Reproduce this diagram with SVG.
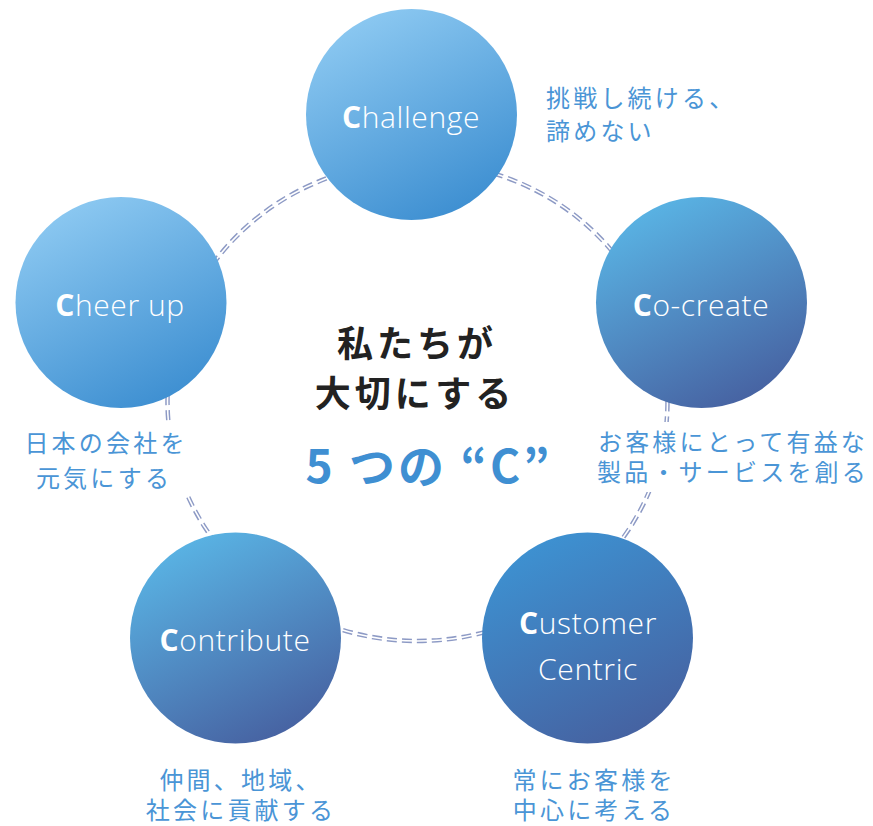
<svg xmlns="http://www.w3.org/2000/svg" width="873" height="826" viewBox="0 0 873 826">
<defs>
<linearGradient id="gA" x1="0.25" y1="0" x2="0.75" y2="1">
<stop offset="0" stop-color="#8ecaf2"/>
<stop offset="1" stop-color="#3b8dd0"/>
</linearGradient>
<linearGradient id="gB" x1="0.25" y1="0" x2="0.75" y2="1">
<stop offset="0" stop-color="#5ab6e6"/>
<stop offset="1" stop-color="#465f9f"/>
</linearGradient>
<linearGradient id="gC" x1="0.25" y1="0" x2="0.75" y2="1">
<stop offset="0" stop-color="#3d93d3"/>
<stop offset="1" stop-color="#46609f"/>
</linearGradient>
<style>
.lbl{font-family:"Open Sans","Noto Sans","Liberation Sans",sans-serif;font-size:30px;fill:#fff;text-anchor:middle;font-weight:300;letter-spacing:0.6px}
.lbl tspan.c{font-weight:700}
.desc{font-family:"Noto Sans CJK JP",sans-serif;font-size:24px;fill:#4a95d6;letter-spacing:3.2px}
.mid{text-anchor:middle}
.bg{fill:#fff}
.title{font-family:"Noto Sans CJK JP",sans-serif;font-size:36px;font-weight:700;fill:#222;text-anchor:middle;letter-spacing:4px}
.big{font-family:"Noto Sans CJK JP",sans-serif;font-size:46px;font-weight:700;fill:#3f8fd2;text-anchor:middle;letter-spacing:3px}
</style>
</defs>
<rect width="873" height="826" fill="#fff"/>
<g id="connectors">
<ellipse cx="417.5" cy="401.5" rx="250" ry="239.5" fill="none" stroke="#8d9ac5" stroke-width="4.5" stroke-dasharray="10 5"/>
<ellipse cx="417.5" cy="401.5" rx="250" ry="239.5" fill="none" stroke="#fff" stroke-width="1.6"/>
</g>
<g id="challenge">
<circle cx="411.5" cy="114.5" r="105.5" fill="url(#gA)"/>
<text class="lbl" x="411" y="128"><tspan class="c">C</tspan>hallenge</text>
</g>
<g id="cocreate">
<circle cx="701.5" cy="302.5" r="105.5" fill="url(#gB)"/>
<text class="lbl" x="701" y="316"><tspan class="c">C</tspan>o-create</text>
</g>
<g id="customer">
<circle cx="587.5" cy="638" r="105.5" fill="url(#gC)"/>
<text class="lbl" x="588" y="634"><tspan class="c">C</tspan>ustomer</text>
<text class="lbl" x="588" y="680">Centric</text>
</g>
<g id="contribute">
<circle cx="235.5" cy="638" r="105.5" fill="url(#gB)"/>
<text class="lbl" x="235" y="651"><tspan class="c">C</tspan>ontribute</text>
</g>
<g id="cheerup">
<circle cx="121" cy="302.5" r="105.5" fill="url(#gA)"/>
<text class="lbl" x="120" y="316"><tspan class="c">C</tspan>heer up</text>
</g>
<g id="center">
<text class="title" x="417" y="357">私たちが</text>
<text class="title" x="415" y="407">大切にする</text>
<text class="big" x="429" y="483">5 つの “C”</text>
</g>
<g id="descriptions">
<rect class="bg" x="590" y="422" width="283" height="70"/>
<rect class="bg" x="18" y="422" width="180" height="74"/>
<text class="desc" x="546" y="107">挑戦し続ける、</text>
<text class="desc" x="546" y="140">諦めない</text>
<text class="desc mid" x="733" y="451">お客様にとって有益な</text>
<text class="desc mid" x="733" y="481">製品・サービスを創る</text>
<text class="desc mid" x="106" y="452">日本の会社を</text>
<text class="desc mid" x="104" y="487">元気にする</text>
<text class="desc mid" x="241" y="789">仲間、地域、</text>
<text class="desc mid" x="241" y="819">社会に貢献する</text>
<text class="desc mid" x="594" y="789">常にお客様を</text>
<text class="desc mid" x="594" y="819">中心に考える</text>
</g>
</svg>
